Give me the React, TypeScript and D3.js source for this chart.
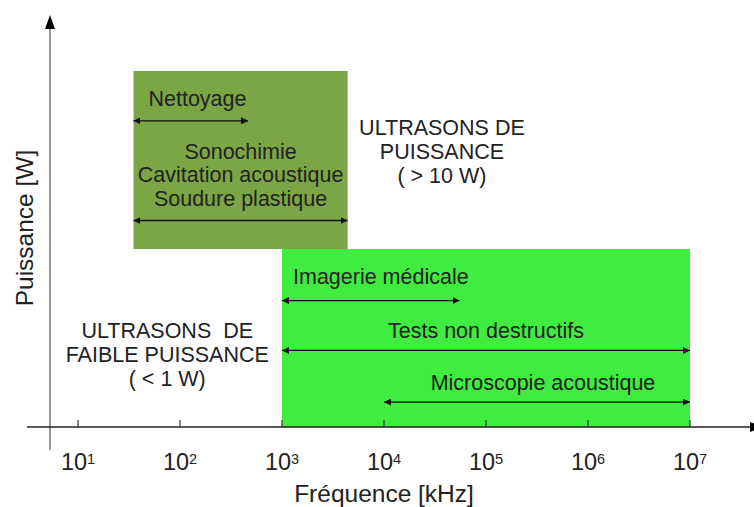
import * as d3 from 'd3';

// frequency bands (kHz) and their power level (arbitrary units on the y axis)
const bandNames = ['Ultrasons de puissance', 'Ultrasons de faible puissance'];
const bandFreqMin = [35, 1e3];
const bandFreqMax = [4400, 1e7];
const bandLevelLow = [1, 0];
const bandLevelHigh = [2, 1];
const bandColors = ['#7ba646', '#3fec3f'];

// applications: label, frequency range, level
const appLabels = ['Nettoyage', 'Sonochimie\nCavitation acoustique\nSoudure plastique', 'Imagerie médicale', 'Tests non destructifs', 'Microscopie acoustique'];
const appFreqFrom = [35, 35, 1e3, 1e3, 1e4];
const appFreqTo = [465, 4400, 55000, 1e7, 1e7];
const appLevel = [1.72, 1.16, 0.71, 0.43, 0.14];

// notes on power classes
const noteLines = [
	['ULTRASONS DE', 'PUISSANCE', '( > 10 W)'],
	['ULTRASONS  DE', 'FAIBLE PUISSANCE', '( < 1 W)'],
];
const noteFreq = [3.7e4, 75];
const noteLevel = [1.64, 0.5];

const tickExponents = [1, 2, 3, 4, 5, 6, 7];

const W = 754;
const H = 507;
const FONT = '"Liberation Sans", Arial, sans-serif';

// label placement per application row
const labelLayout = [
	{anchor: 'start', dx: 15, dy: -15},
	{anchor: 'middle', dx: 0, dy: -62},
	{anchor: 'start', dx: 11, dy: -17},
	{anchor: 'middle', dx: 0, dy: -12},
	{anchor: 'middle', dx: 6, dy: -12},
];

export default function App() {
	const x = d3.scaleLog().domain([10, 1e7]).range([78, 690]);
	const y = d3.scaleLinear().domain([0, 2]).range([427, 71]);

	const axisY = y(0);
	const axisX = 50;

	return (
		<svg width={W} height={H} style={{position: 'absolute', left: 0, top: 0, background: '#fff'}} fontFamily={FONT}>
			<defs>
				<marker id="ah" viewBox="0 0 10 10" refX="10" refY="5" markerWidth="7" markerHeight="7" markerUnits="userSpaceOnUse" orient="auto-start-reverse">
					<path d="M0,0 L10,5 L0,10 z" fill="#111" />
				</marker>
			</defs>

			{bandNames.map((name, i) => (
				<rect
					key={name}
					x={x(bandFreqMin[i])}
					y={y(bandLevelHigh[i])}
					width={x(bandFreqMax[i]) - x(bandFreqMin[i])}
					height={y(bandLevelLow[i]) - y(bandLevelHigh[i])}
					fill={bandColors[i]}
				/>
			))}

			{appLabels.map((label, i) => {
				const x0 = x(appFreqFrom[i]);
				const x1 = x(appFreqTo[i]);
				const yy = y(appLevel[i]);
				const lay = labelLayout[i];
				const tx = lay.anchor === 'start' ? x0 + lay.dx : (x0 + x1) / 2 + lay.dx;
				const lines = label.split('\n');
				return (
					<g key={label}>
						<line x1={x0} x2={x1} y1={yy} y2={yy} stroke="#111" strokeWidth={1.3} markerStart="url(#ah)" markerEnd="url(#ah)" />
						<text x={tx} y={yy + lay.dy} textAnchor={lay.anchor} fontSize={21.5} fill="#222">
							{lines.map((l, j) => (
								<tspan key={j} x={tx} dy={j === 0 ? 0 : 23.5}>
									{l}
								</tspan>
							))}
						</text>
					</g>
				);
			})}

			{noteLines.map((lines, i) => (
				<text key={i} x={x(noteFreq[i])} y={y(noteLevel[i])} textAnchor="middle" fontSize={21.5} fill="#222" style={{whiteSpace: 'pre'}}>
					{lines.map((l, j) => (
						<tspan key={j} x={x(noteFreq[i])} dy={j === 0 ? 0 : 24}>
							{l}
						</tspan>
					))}
				</text>
			))}

			{/* y axis */}
			<line x1={axisX} x2={axisX} y1={28} y2={450} stroke="#777" strokeWidth={1.5} />
			<path d={`M${axisX - 5},29 L${axisX},15 L${axisX + 5},29 z`} fill="#000" />

			{/* x axis */}
			<line x1={27} x2={752} y1={axisY} y2={axisY} stroke="#222" strokeWidth={1.5} />
			<path d={`M750,${axisY - 5} L764,${axisY} L750,${axisY + 5} z`} fill="#000" />

			{tickExponents.map((e) => {
				const tx = x(Math.pow(10, e));
				return (
					<g key={e}>
						<line x1={tx} x2={tx} y1={axisY} y2={axisY - 7} stroke="#333" strokeWidth={1.2} />
						<text x={tx} y={470} textAnchor="middle" fontSize={23.5} fill="#222">
							10
							<tspan fontSize={14.5} dy={-6}>
								{e}
							</tspan>
						</text>
					</g>
				);
			})}

			<text x={384} y={502} textAnchor="middle" fontSize={24.5} fill="#222">
				Fréquence [kHz]
			</text>
			<text transform="translate(33,228) rotate(-90)" textAnchor="middle" fontSize={24.5} fill="#222">
				Puissance [W]
			</text>
		</svg>
	);
}
